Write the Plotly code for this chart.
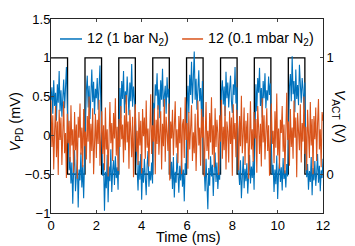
import numpy as np
import plotly.graph_objects as go

# Time grid (ms)
n_pts = 301
time_ms = np.linspace(0, 12, n_pts)

# V_PD, 1 bar N2 (mV)
vpd_1bar = [
    0.45,0.62,0.28,0.71,0.38,0.55,0.19,0.66,0.42,0.83,0.31,0.58,0.24,0.49,0.72,0.35,0.61,0.88,0.40,
    -0.12,-0.45,-0.28,-0.62,-0.35,-0.88,-0.41,-0.19,-0.72,-0.50,-0.31,-0.93,-0.44,-0.58,-0.22,-0.67,-0.38,-0.81,-0.29,
    0.30,0.58,0.77,0.36,0.64,0.21,0.52,0.85,0.43,0.69,0.27,0.60,0.48,0.74,0.33,0.56,0.90,0.39,
    -0.08,-0.52,-0.36,-0.97,-0.47,-0.68,-0.25,-0.86,-0.40,-0.59,-0.18,-0.73,-0.45,-0.32,-0.64,-0.27,-0.55,-0.41,-0.70,
    0.35,0.61,0.22,0.70,0.47,0.83,0.29,0.57,0.40,0.76,0.52,0.26,0.68,0.44,0.92,0.37,0.63,0.50,0.31,
    -0.15,-0.48,-0.71,-0.33,-0.57,-0.24,-0.83,-0.42,-0.61,-0.30,-0.52,-0.77,-0.38,-0.20,-0.66,-0.46,-0.58,-0.35,-0.62,
    0.42,0.27,0.66,0.51,0.80,0.33,0.59,0.22,0.71,0.46,0.86,0.37,0.55,0.64,0.28,0.75,0.49,0.60,
    -0.10,-0.56,-0.34,-0.69,-0.28,-0.80,-0.47,-0.61,-0.23,-0.52,-0.74,-0.39,-0.58,-0.31,-0.66,-0.44,-0.85,-0.36,-0.50,
    0.38,0.64,0.29,0.78,0.52,0.95,0.41,0.67,1.08,0.46,0.73,0.33,0.58,0.84,0.44,0.61,0.26,0.70,
    -0.14,-0.49,-0.72,-0.30,-0.58,-0.95,-0.42,-0.65,-0.27,-0.53,-0.38,-0.78,-0.46,-0.22,-0.60,-0.35,-0.69,-0.48,-0.57,
    0.33,0.57,0.71,0.40,0.63,0.25,0.82,0.48,0.68,0.36,0.59,0.77,0.44,0.29,0.66,0.52,0.88,0.41,0.62,
    -0.11,-0.46,-0.64,-0.32,-0.81,-0.50,-0.27,-0.68,-0.43,-0.59,-0.36,-0.75,-0.48,-0.25,-0.62,-0.40,-0.55,-0.33,-0.70,
    0.40,0.66,0.31,0.74,0.55,0.87,0.38,0.61,0.23,0.70,0.48,0.80,0.35,0.58,0.45,0.76,0.52,0.67,
    -0.09,-0.51,-0.38,-0.73,-0.44,-0.63,-0.26,-0.82,-0.47,-0.35,-0.60,-0.41,-0.71,-0.29,-0.56,-0.45,-0.67,-0.37,-0.53,
    0.36,0.62,0.79,0.44,1.02,0.53,0.70,0.30,0.85,0.47,0.65,0.39,0.91,0.56,0.42,0.74,0.60,0.33,0.68,
    -0.13,-0.54,-0.37,-0.70,-0.46,-0.60,-0.28,-0.77,-0.42,-0.58,-0.33,-0.65,-0.49,-0.24,-0.61,-0.39,-0.72,-0.45,-0.55,-0.30,
]

# V_PD, 0.1 mbar N2 (mV)
vpd_01mbar = [
    0.45,-0.15,0.26,-0.44,0.06,0.38,-0.28,0.18,-0.51,0.33,-0.06,0.23,-0.38,0.11,0.44,-0.23,0.03,-0.55,0.28,-0.10,
    0.19,-0.34,0.39,-0.13,0.08,-0.48,0.30,-0.19,0.14,-0.56,0.24,-0.03,0.41,-0.25,0.10,-0.41,0.34,-0.14,0.05,-0.31,
    0.25,-0.08,0.50,-0.36,0.15,-0.20,0.35,-0.50,0.09,0.28,-0.29,0.20,-0.11,0.46,-0.39,0.01,0.31,-0.24,0.13,-0.45,
    0.36,-0.18,0.08,-0.53,0.23,0.43,-0.10,0.16,-0.33,0.29,-0.04,0.48,-0.26,0.11,-0.46,0.21,-0.15,0.38,-0.05,0.14,
    -0.35,0.26,-0.19,0.52,-0.09,0.18,-0.43,0.33,0.04,-0.28,0.24,-0.54,0.10,0.40,-0.21,0.06,-0.38,0.30,-0.13,0.19,
    -0.49,0.34,-0.01,0.23,-0.30,0.45,-0.16,0.09,-0.40,0.28,0.53,-0.24,0.13,-0.08,0.35,-0.50,0.20,-0.11,0.39,-0.25,
    0.05,0.31,-0.44,0.15,-0.14,0.47,-0.34,0.24,0.03,-0.20,0.41,-0.58,0.18,-0.04,0.33,-0.26,0.11,0.44,-0.16,0.08,
    -0.36,0.25,-0.10,0.36,-0.50,0.14,0.21,-0.29,0.49,-0.06,0.16,-0.43,0.30,-0.18,0.09,0.39,-0.33,0.04,-0.23,0.28,
    -0.46,0.19,0.45,-0.13,0.10,-0.39,0.34,-0.03,0.24,-0.53,0.15,0.43,-0.20,0.06,-0.31,0.29,-0.09,0.49,-0.25,0.13,
    -0.41,0.35,-0.15,0.20,0.03,-0.51,0.26,-0.08,0.46,-0.30,0.11,-0.19,0.38,-0.44,0.18,0.05,-0.35,0.31,-0.11,0.23,
    -0.52,0.40,-0.05,0.16,-0.28,0.33,0.09,-0.45,0.25,-0.14,0.51,-0.23,0.01,0.36,-0.38,0.19,-0.10,0.29,-0.56,0.14,
    0.44,-0.18,0.08,-0.34,0.30,-0.04,0.21,-0.48,0.38,0.10,-0.24,0.15,-0.40,0.48,-0.09,0.26,-0.31,0.04,0.35,-0.20,
    0.13,-0.52,0.24,0.41,-0.11,0.06,-0.36,0.31,-0.16,0.54,-0.26,0.09,-0.43,0.20,0.03,0.38,-0.21,0.14,-0.49,0.28,
    0.55,-0.06,0.18,-0.39,0.34,-0.15,0.10,-0.30,0.45,-0.03,0.23,-0.54,0.29,0.05,-0.19,0.40,-0.35,0.16,-0.08,0.50,
    -0.24,0.11,-0.45,0.33,0.01,-0.29,0.43,-0.13,0.21,-0.50,0.25,-0.05,0.36,-0.33,0.15,0.47,-0.18,0.08,-0.41,0.30,
    0.19,
]

# Actuation square wave (V) — edge times (ms) and levels
act_t = [0, 0.73, 0.73, 1.50, 1.50, 2.23, 2.23, 2.99, 2.99, 3.72, 3.72, 4.49, 4.49, 5.22,
         5.22, 5.98, 5.98, 6.71, 6.71, 7.48, 7.48, 8.21, 8.21, 8.97, 8.97, 9.70, 9.70,
         10.47, 10.47, 11.20, 11.20, 11.85]
act_v = [1, 1, 0, 0, 1, 1, 0, 0, 1, 1, 0, 0, 1, 1,
         0, 0, 1, 1, 0, 0, 1, 1, 0, 0, 1, 1, 0,
         0, 1, 1, 0, 0]

x_ticks = [0, 2, 4, 6, 8, 10, 12]
left_ticks = [-1, -0.5, 0, 0.5, 1, 1.5]
right_ticks = [0, 1]

series_names = ["12 (1 bar N<sub>2</sub>)", "12 (0.1 mbar N<sub>2</sub>)"]
series_colors = ["#0072BD", "#D95319"]
x_title = "Time (ms)"
left_title = "<i>V</i><sub>PD</sub> (mV)"
right_title = "<i>V</i><sub>ACT</sub> (V)"

FONT = "Liberation Sans, Arial, Helvetica, sans-serif"
AX = "#262626"
TXT = "black"

fig = go.Figure()
# square wave on primary (right-side) axis so it renders beneath the data
fig.add_trace(go.Scatter(x=act_t, y=act_v, mode="lines", yaxis="y",
                         line=dict(color="black", width=1.3), showlegend=False,
                         hoverinfo="skip"))
fig.add_trace(go.Scatter(x=time_ms, y=vpd_1bar, mode="lines", yaxis="y2",
                         name=series_names[0], showlegend=False,
                         line=dict(color=series_colors[0], width=1.1)))
fig.add_trace(go.Scatter(x=time_ms, y=vpd_01mbar, mode="lines", yaxis="y2",
                         name=series_names[1], showlegend=False,
                         line=dict(color=series_colors[1], width=1.1)))

# legend drawn in-plot (short line samples as in the reference)
leg_y = 0.897
leg_items = [(0.033, 0.114, 0.124), (0.482, 0.559, 0.569)]
shapes, annotations = [], []
for (x0, x1, xt), name, col in zip(leg_items, series_names, series_colors):
    shapes.append(dict(type="line", xref="paper", yref="paper", x0=x0, x1=x1,
                       y0=leg_y, y1=leg_y, line=dict(color=col, width=1.5)))
    annotations.append(dict(xref="paper", yref="paper", x=xt, y=leg_y,
                            xanchor="left", yanchor="middle", text=name,
                            showarrow=False, font=dict(size=14.3, color=TXT)))

# axis titles
annotations.append(dict(xref="paper", yref="paper", x=0.505, y=-0.124,
                        xanchor="center", yanchor="middle", text=x_title,
                        showarrow=False, font=dict(size=14.5, color=TXT)))
annotations.append(dict(xref="paper", yref="paper", x=-0.13, y=0.47,
                        xanchor="center", yanchor="middle", text=left_title,
                        textangle=-90, showarrow=False, font=dict(size=14.5, color=TXT)))
annotations.append(dict(xref="paper", yref="paper", x=1.06, y=0.50,
                        xanchor="center", yanchor="middle", text=right_title,
                        textangle=90, showarrow=False, font=dict(size=14.5, color=TXT)))

fig.update_layout(
    width=355, height=246,
    margin=dict(l=51, r=32, t=19, b=33, autoexpand=False),
    paper_bgcolor="white", plot_bgcolor="white",
    font=dict(family=FONT, size=13, color=TXT),
    showlegend=False,
    shapes=shapes, annotations=annotations,
    xaxis=dict(range=[0, 12], tickvals=x_ticks, ticks="inside", ticklen=3,
               showline=True, linecolor=AX, linewidth=1, mirror="ticks",
               showgrid=False, zeroline=False, automargin=False,
               tickfont=dict(size=13, color=TXT)),
    yaxis=dict(range=[-1/3, 4/3], tickvals=right_ticks, side="right",
               ticks="inside", ticklen=3, showline=True, linecolor=AX, linewidth=1,
               showgrid=False, zeroline=False, automargin=False,
               tickfont=dict(size=13, color=TXT)),
    yaxis2=dict(range=[-1, 1.5], tickvals=left_ticks, overlaying="y", side="left",
                ticks="inside", ticklen=3, showline=True, linecolor=AX, linewidth=1,
                showgrid=False, zeroline=False, automargin=False,
                ticklabelstandoff=-3,
                tickfont=dict(size=13, color=TXT)),
)

fig.write_html("out.html", config={"displayModeBar": False},
               post_script="document.body.style.margin='0';document.body.style.padding='0';")
